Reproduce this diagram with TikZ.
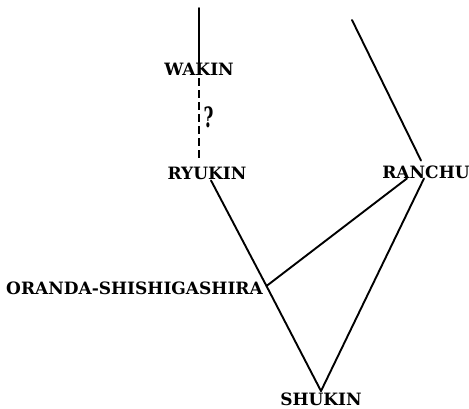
\documentclass[tikz,border=0pt]{standalone}
\usepackage{fontspec}
\setmainfont{DejaVu Serif}
\usetikzlibrary{calc}
\begin{document}
\begin{tikzpicture}[x=1pt,y=-1pt,
  lab/.style={font=\bfseries\fontsize{17}{20}\selectfont, inner sep=0pt, text height=12.5pt, text depth=0pt, anchor=center},
  link/.style={line width=1.9pt, line cap=round},
  unsure/.style={line width=1.9pt, dash pattern=on 8pt off 4pt}]
\useasboundingbox (0,0) rectangle (469,409);
\node[lab] (wakin) at (199,69) {WAKIN};
\node[lab] (ryukin) at (207,173) {RYUKIN};
\node[lab] (ranchu) at (426,172) {RANCHU};
\node[lab] (oranda) at (134.5,288) {ORANDA-SHISHIGASHIRA};
\node[lab] (shukin) at (321,399.5) {SHUKIN};
\node[inner sep=0pt, font=\bfseries\fontsize{28}{30}\selectfont, xscale=0.6] (q) at (208.5,117.5) {?};
\coordinate (wtop) at (199,8);
\coordinate (rtop) at (352,20);
\coordinate (oj) at (266.5,286);
\coordinate (apex) at ([yshift=2pt]shukin.north);
\draw[link] (wtop) -- (wakin.north);
\draw[unsure] ([yshift=-3pt]wakin.south) -- ([xshift=-8pt,yshift=6pt]ryukin.north);
\draw[link] ([xshift=4pt,yshift=-1pt]ryukin.south) -- (oj) -- (apex);
\draw[link] (rtop) -- ([xshift=-5pt,yshift=5pt]ranchu.north);
\draw[link] ([xshift=-19pt,yshift=0pt]ranchu.south) -- (oj);
\draw[link] ([xshift=-2pt,yshift=0pt]ranchu.south) -- (apex);
\end{tikzpicture}
\end{document}
